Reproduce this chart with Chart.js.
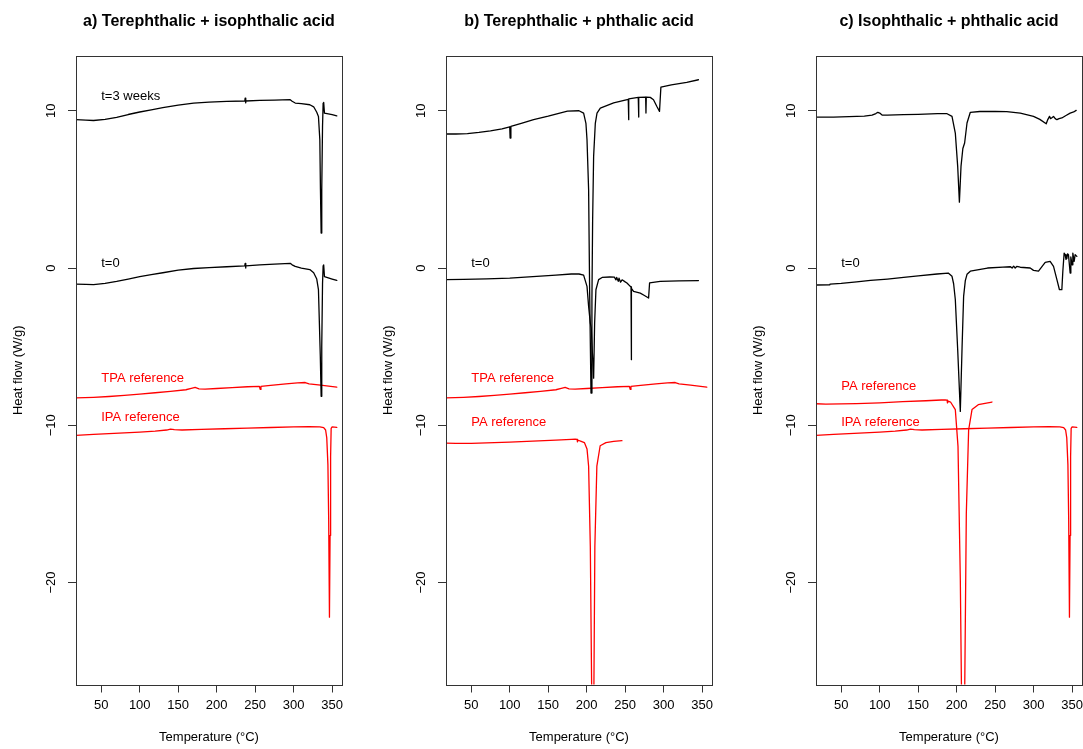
<!DOCTYPE html>
<html><head><meta charset="utf-8">
<script src="https://cdn.jsdelivr.net/npm/chart.js@4.4.0/dist/chart.umd.min.js"></script>
<style>
html,body{margin:0;padding:0;background:#fff;width:1083px;height:749px;overflow:hidden}
canvas{position:absolute;top:0}
</style></head><body>
<canvas id="ca" width="362" height="749" style="left:0px"></canvas>
<canvas id="cb" width="362" height="749" style="left:370px"></canvas>
<canvas id="cc" width="343" height="749" style="left:740px"></canvas>
<script>
// ---------- tick labels & ranges ----------
const xTicks = [50, 100, 150, 200, 250, 300, 350];
const yTicks = [-20, -10, 0, 10];
const xLimits = [17.2, 362.8];
const yLimits = [-26.48, 13.48];
const panelTitles = ['a) Terephthalic + isophthalic acid', 'b) Terephthalic + phthalic acid', 'c) Isophthalic + phthalic acid'];

// ---------- series: [temperature °C, heat flow W/g] ----------
const tpaRef = [[17.2,-8.26],[40,-8.22],[60,-8.17],[80,-8.1],[100,-8.02],[120,-7.93],[140,-7.84],[160,-7.74],[167,-7.65],[172,-7.59],[177,-7.68],[185,-7.7],[200,-7.66],[220,-7.6],[240,-7.55],[255.5,-7.52],[256.5,-7.72],[257.5,-7.52],[270,-7.46],[290,-7.36],[305,-7.3],[315,-7.28],[320,-7.36],[335,-7.45],[356,-7.57]];
const ipaRef = [[17.2,-10.64],[40,-10.58],[60,-10.53],[80,-10.48],[100,-10.43],[120,-10.37],[135,-10.3],[140,-10.24],[145,-10.28],[155,-10.3],[180,-10.26],[210,-10.22],[240,-10.18],[270,-10.14],[300,-10.1],[320,-10.08],[334,-10.1],[339,-10.15],[341.5,-10.3],[343,-10.8],[344.5,-12.5],[345.5,-16],[346.5,-22.2],[347.3,-17],[348,-12],[348.7,-10.2],[350,-10.1],[356,-10.13]];

const aWeeks3 = [[17.2,9.43],[30,9.4],[40,9.38],[55,9.45],[70,9.58],[85,9.76],[100,9.92],[115,10.06],[130,10.2],[150,10.36],[170,10.49],[190,10.55],[213,10.59],[236.5,10.62],[237,10.8],[237.5,10.5],[238,10.62],[256,10.66],[275,10.68],[295.5,10.7],[298,10.6],[302,10.49],[310,10.45],[321,10.38],[326,10.25],[330,9.9],[332.2,9.64],[334,8.16],[334.8,4.98],[335.7,2.22],[336.5,4.98],[337.5,9],[338.3,10.49],[339,10.53],[340,9.85],[345,9.8],[350,9.75],[356,9.68]];
const aWeek0 = [[17.2,-1.02],[30,-1.04],[40,-1.05],[55,-0.98],[70,-0.85],[85,-0.7],[100,-0.55],[115,-0.42],[130,-0.3],[150,-0.14],[170,-0.03],[190,0.03],[213,0.08],[236.5,0.14],[237,0.3],[237.5,0],[238,0.14],[256,0.2],[275,0.25],[295.5,0.3],[298,0.2],[302,0.1],[310,0],[321,-0.1],[326,-0.3],[330,-0.7],[332.2,-1.38],[334.6,-5.6],[335.7,-8.16],[336.5,-5],[337.5,-1],[338.3,0.15],[339,0.2],[340,-0.55],[345,-0.62],[350,-0.7],[356,-0.79]];

const bWeeks3 = [[17.2,8.52],[30,8.52],[45,8.55],[60,8.62],[75,8.72],[90,8.85],[100,8.98],[100.5,8.26],[101.5,9.0],[115,9.2],[131,9.43],[150,9.65],[165,9.85],[175,9.97],[190,10.0],[196,9.85],[199,9.2],[200.4,8.16],[202.5,4.98],[203.8,-1.38],[205.6,-7.95],[206.8,-2],[207.7,3],[209,7.1],[211.2,9.2],[213.4,9.85],[217.7,10.17],[235,10.5],[254,10.72],[254.4,9.43],[254.8,10.75],[267,10.85],[267.4,9.6],[267.8,10.85],[276.6,10.87],[277,9.85],[277.4,10.87],[282.6,10.85],[286.8,10.7],[291.2,10.27],[294.6,9.96],[296.4,11.5],[310,11.65],[330,11.8],[345.2,11.97]];
const bWeek0 = [[17.2,-0.74],[40,-0.72],[70,-0.69],[100,-0.64],[130,-0.55],[160,-0.45],[180,-0.38],[190,-0.38],[196,-0.45],[200.4,-1.17],[202.5,-2.44],[204.7,-3.5],[205.9,-3.8],[207.5,-5.5],[209,-7.0],[210.3,-3.5],[212,-1.38],[215.5,-0.74],[220,-0.6],[230,-0.57],[236,-0.58],[238,-0.75],[239,-0.6],[241,-0.85],[242,-0.65],[244,-0.9],[246,-0.75],[250,-0.88],[252.3,-0.95],[256.6,-1.17],[257.6,-1.2],[257.9,-5.83],[258.3,-1.3],[260.9,-1.49],[269.6,-1.6],[275,-1.75],[280.4,-1.91],[281.7,-0.95],[295.5,-0.85],[320,-0.82],[345.2,-0.8]];
const bPaRef = [[17.2,-11.13],[30,-11.15],[50,-11.15],[70,-11.12],[100,-11.07],[130,-11.0],[160,-10.94],[180,-10.89],[185,-10.88],[187.5,-10.9],[188,-11.05],[189,-10.95],[192,-11.0],[197,-11.1],[200.4,-11.5],[202.5,-12.6],[204.7,-17.7],[206.4,-26.4],[208,-33],[209.4,-26.4],[210.6,-17.7],[213.2,-12.6],[217.5,-11.3],[225,-11.1],[235,-11.02],[245.8,-10.98]];

const cWeeks3 = [[17.2,9.6],[40,9.6],[60,9.62],[80,9.66],[90,9.72],[95,9.82],[97.5,9.9],[100,9.85],[103,9.73],[110,9.72],[131,9.75],[150,9.77],[175,9.81],[187.5,9.81],[193.9,9.64],[198.2,8.58],[201.3,6.46],[203.5,4.19],[205.6,6.46],[208,7.6],[210.3,7.95],[213.4,9.22],[217.7,9.9],[230,9.95],[250,9.96],[265,9.94],[282.6,9.85],[299.8,9.64],[308,9.45],[316.3,9.17],[318,9.4],[320.6,9.64],[322,9.5],[323.7,9.55],[325.8,9.64],[328,9.5],[330.2,9.43],[333,9.5],[336.6,9.54],[342,9.7],[347.4,9.85],[352,9.92],[355.2,10.02]];
const cWeek0 = [[17.2,-1.08],[35,-1.07],[35.5,-1.02],[50,-0.98],[70,-0.88],[88,-0.79],[110,-0.7],[131,-0.6],[150,-0.5],[174.5,-0.38],[189,-0.32],[193.9,-0.53],[196,-1.0],[198.2,-2.0],[201.3,-5.2],[204.7,-9.12],[207,-5],[209,-1.8],[211.2,-0.8],[213.4,-0.4],[217.7,-0.2],[240,0],[260,0.06],[270,0.08],[272,0],[274,0.12],[276,0],[278,0.1],[282.6,0.05],[295.5,0],[299.8,-0.15],[306.3,-0.2],[311,0.1],[315,0.36],[321.4,0.42],[325.8,0.1],[330.2,-0.74],[333.5,-1.38],[336.6,-1.38],[337.9,-0.2],[339.6,0.95],[340.9,0.85],[342,0.55],[343.1,0.6],[344,0.9],[345.2,0.85],[347.4,-0.32],[348.3,0.7],[350,0.2],[350.9,0.95],[352.6,0.42],[353.9,0.85],[356.1,0.74]];
const cPaRef = [[17.2,-8.63],[30,-8.65],[50,-8.64],[70,-8.62],[100,-8.57],[130,-8.5],[160,-8.44],[180,-8.39],[185,-8.38],[187.5,-8.4],[188,-8.58],[189,-8.47],[192,-8.52],[198.2,-9.0],[201.7,-11.34],[204.7,-19.8],[206.9,-30],[208.5,-34],[210.2,-28],[212.5,-15.6],[215.5,-10.3],[219.9,-9.0],[228,-8.69],[245.8,-8.52]];

// ---------- in-plot labels (data coordinates) ----------
const notesA = [['t=3 weeks',50,10.9,'black'],['t=0',50,0.3,'black'],['TPA reference',50,-7.0,'red'],['IPA reference',50,-9.5,'red']];
const notesB = [['t=0',50,0.3,'black'],['TPA reference',50,-7.0,'red'],['PA reference',50,-9.8,'red']];
const notesC = [['t=0',50,0.3,'black'],['PA reference',50,-7.5,'red'],['IPA reference',50,-9.8,'red']];

const FONT = '"Liberation Sans", Arial, Helvetica, sans-serif';
const AXIS_COL = '#333';

function fmt(v){ return v < 0 ? '\u2212' + Math.abs(v) : String(v); }

const rFrame = {
  id: 'rframe',
  afterDraw(chart, args, opts) {
    const {ctx, chartArea: a, scales} = chart;
    ctx.save();
    ctx.strokeStyle = AXIS_COL; ctx.lineWidth = 1;
    const L = Math.round(a.left) + 0.5, T = Math.round(a.top) + 0.5;
    ctx.strokeRect(L, T, Math.round(a.right) - Math.round(a.left), Math.round(a.bottom) - Math.round(a.top));
    ctx.fillStyle = '#000';
    ctx.font = '13px ' + FONT;
    ctx.textAlign = 'center'; ctx.textBaseline = 'middle';
    yTicks.forEach(v => {
      const y = scales.y.getPixelForValue(v);
      ctx.save(); ctx.translate(a.left - 25, y); ctx.rotate(-Math.PI / 2);
      ctx.fillText(fmt(v), 0, 0); ctx.restore();
    });
    ctx.textAlign = 'left';
    (opts.notes || []).forEach(([txt, x, y, col]) => {
      ctx.fillStyle = col;
      ctx.fillText(txt, scales.x.getPixelForValue(x), scales.y.getPixelForValue(y));
    });
    ctx.restore();
  }
};

function ds(points, color) {
  return { data: points.map(p => ({x: p[0], y: p[1]})), borderColor: color, backgroundColor: color,
    borderWidth: 1.3, pointRadius: 0, pointHoverRadius: 0, showLine: true, fill: false, tension: 0,
    borderJoinStyle: 'round', borderCapStyle: 'round' };
}

function makePanel(id, title, datasets, notes, rightPad) {
  new Chart(document.getElementById(id), {
    type: 'scatter',
    data: { datasets },
    plugins: [rFrame],
    options: {
      responsive: false, animation: false, devicePixelRatio: 1,
      layout: { padding: { left: 0, right: rightPad, top: 0, bottom: 0 } },
      events: [],
      plugins: {
        legend: { display: false }, tooltip: { enabled: false },
        title: { display: true, text: title, fullSize: false, align: 'center', color: '#000',
          font: { family: FONT, size: 16, weight: 'bold', lineHeight: 1.2 },
          padding: { top: 12, bottom: 24.8 } },
        rframe: { notes }
      },
      scales: {
        x: {
          type: 'linear', min: xLimits[0], max: xLimits[1],
          afterBuildTicks: s => { s.ticks = xTicks.map(v => ({value: v})); },
          afterFit: s => { s.height = 64.5; s.paddingLeft = 0; s.paddingRight = 0; },
          grid: { display: true, drawOnChartArea: false, drawTicks: true, tickLength: 8, color: AXIS_COL, lineWidth: 1 },
          border: { display: false },
          ticks: { autoSkip: false, maxRotation: 0, minRotation: 0, padding: 5.5, color: '#000', font: { family: FONT, size: 13 } },
          title: { display: true, text: 'Temperature (°C)', color: '#000', font: { family: FONT, size: 13, lineHeight: 1.2 }, padding: { top: 0, bottom: 3.4 } }
        },
        y: {
          type: 'linear', min: yLimits[0], max: yLimits[1],
          afterBuildTicks: s => { s.ticks = yTicks.map(v => ({value: v})); },
          afterFit: s => { s.width = 76; s.paddingTop = 0; s.paddingBottom = 0; },
          grid: { display: true, drawOnChartArea: false, drawTicks: true, tickLength: 8, color: AXIS_COL, lineWidth: 1 },
          border: { display: false },
          ticks: { display: false },
          title: { display: true, text: 'Heat flow (W/g)', color: '#000', font: { family: FONT, size: 13, lineHeight: 1.2 }, padding: { top: 10.2, bottom: 0 } }
        }
      }
    }
  });
}

makePanel('ca', panelTitles[0], [ds(aWeeks3,'#000'), ds(aWeek0,'#000'), ds(tpaRef,'#ff0000'), ds(ipaRef,'#ff0000')], notesA, 20);
makePanel('cb', panelTitles[1], [ds(bWeeks3,'#000'), ds(bWeek0,'#000'), ds(tpaRef,'#ff0000'), ds(bPaRef,'#ff0000')], notesB, 20);
makePanel('cc', panelTitles[2], [ds(cWeeks3,'#000'), ds(cWeek0,'#000'), ds(cPaRef,'#ff0000'), ds(ipaRef,'#ff0000')], notesC, 1);
</script>
</body></html>
